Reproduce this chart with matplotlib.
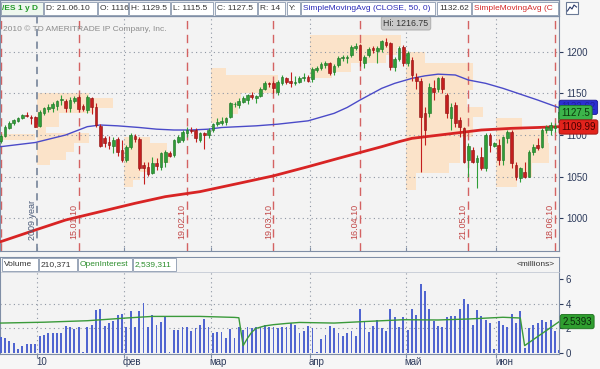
import numpy as np
import pandas as pd
import matplotlib
matplotlib.use("Agg")
import matplotlib.pyplot as plt
import matplotlib.transforms as mtransforms
from matplotlib.patches import Rectangle

plt.rcParams["font.family"] = ["Liberation Sans", "DejaVu Sans"]

# ---------------------------------------------------------
# Data: /ES daily bars 18.12.2009 - 21.06.2010 (no bars on 25.12 and 01.01)
# ---------------------------------------------------------
dates = pd.bdate_range("2009-12-18", "2010-06-21")
dates = dates.drop(pd.to_datetime(["2009-12-25", "2010-01-01"]))

opens = [1093, 1099, 1109, 1114, 1117, 1120, 1124, 1122, 1122, 1111,
         1127, 1131, 1132, 1135, 1142, 1141, 1133, 1141, 1146, 1135,
         1130, 1145, 1134, 1111, 1096, 1092, 1087, 1095, 1082, 1070,
         1086, 1099, 1095, 1064, 1062, 1055, 1066, 1062, 1068, 1079,
         1076, 1092, 1094, 1102, 1106, 1106, 1094, 1102, 1100, 1106,
         1113, 1115, 1116, 1122, 1137, 1136, 1140, 1142, 1148, 1145,
         1147, 1155, 1162, 1163, 1152, 1162, 1169, 1165, 1163, 1164,
         1169, 1170, 1167, 1178, 1180, 1184, 1186, 1176, 1184, 1192,
         1193, 1196, 1205, 1208, 1187, 1196, 1205, 1201, 1203, 1212,
         1210, 1182, 1191, 1206, 1186, 1190, 1170, 1165, 1126, 1126,
         1156, 1155, 1168, 1148, 1120, 1136, 1118, 1109, 1070, 1082,
         1068, 1074, 1060, 1100, 1087, 1088, 1070, 1096, 1104, 1064,
         1048, 1056, 1050, 1080, 1088, 1086, 1106, 1106, 1109, 1116]
highs = [1101, 1112, 1117, 1119, 1122, 1125, 1128, 1124, 1123, 1130,
         1134, 1137, 1139, 1142, 1148, 1143, 1145, 1147, 1148, 1137,
         1148, 1146, 1138, 1113, 1099, 1099, 1097, 1098, 1094, 1088,
         1102, 1101, 1097, 1067, 1068, 1074, 1072, 1080, 1082, 1081,
         1095, 1100, 1106, 1110, 1110, 1108, 1104, 1104, 1108, 1114,
         1120, 1121, 1122, 1139, 1140, 1144, 1147, 1149, 1151, 1148,
         1157, 1165, 1164, 1165, 1166, 1172, 1170, 1176, 1171, 1171,
         1174, 1172, 1181, 1183, 1187, 1189, 1188, 1185, 1195, 1196,
         1196, 1208, 1210, 1209, 1196, 1205, 1207, 1207, 1214, 1216.75,
         1211, 1193, 1207, 1208, 1201, 1193, 1174, 1168, 1133, 1162,
         1166, 1170, 1171, 1150, 1138, 1140, 1122, 1110, 1090, 1086,
         1076, 1085, 1102, 1102, 1092, 1095, 1099, 1106, 1106, 1067,
         1062, 1068, 1082, 1089, 1096, 1108, 1112, 1116, 1114, 1129.5]
lows = [1090, 1097, 1107, 1112, 1116, 1119, 1121, 1113, 1109, 1109,
        1124, 1128, 1127, 1130, 1136, 1128, 1128, 1138, 1127, 1129,
        1126, 1125, 1110, 1085, 1085, 1083, 1078, 1075, 1067, 1068,
        1083, 1091, 1058, 1041, 1051, 1053, 1058, 1058, 1062, 1073,
        1074, 1090, 1092, 1098, 1102, 1092, 1092, 1083, 1096, 1104,
        1111, 1112, 1112, 1120, 1134, 1132, 1138, 1137, 1143, 1138,
        1145, 1154, 1158, 1150, 1148, 1160, 1161, 1158, 1160, 1162,
        1165, 1163, 1163, 1175, 1178, 1180, 1172, 1172, 1182, 1189,
        1186, 1194, 1202, 1183, 1180, 1194, 1198, 1186, 1200, 1205,
        1178, 1177, 1189, 1183, 1183, 1165, 1155, 1056, 1088, 1121,
        1142, 1152, 1150, 1120, 1106, 1110, 1098, 1066, 1050, 1066,
        1036, 1058, 1057, 1080, 1085, 1064, 1064, 1090, 1060, 1046,
        1044, 1048, 1049, 1076, 1082, 1084, 1102, 1100, 1104, 1115.5]
closes = [1099, 1110, 1115, 1118, 1121, 1124, 1123, 1120, 1110, 1128,
          1132, 1134, 1137, 1141, 1143, 1133, 1142, 1144, 1131, 1131,
          1146, 1134, 1112, 1087, 1090, 1088, 1094, 1080, 1070, 1086,
          1100, 1095, 1060, 1061, 1053, 1066, 1063, 1078, 1080, 1075,
          1094, 1098, 1104, 1106, 1105, 1096, 1102, 1100, 1106, 1113,
          1116, 1117, 1121, 1138, 1137, 1141, 1144, 1148, 1146, 1147,
          1155, 1162, 1161, 1156, 1164, 1170, 1164, 1162, 1163, 1169,
          1170, 1165, 1179, 1181, 1185, 1187, 1175, 1183, 1193, 1194,
          1194, 1206, 1207, 1190, 1194, 1203, 1202, 1205, 1213, 1208,
          1182, 1191, 1205, 1186, 1198, 1172, 1165, 1122, 1106, 1158,
          1152, 1169, 1155, 1127, 1134, 1115, 1110, 1068, 1087, 1068,
          1073, 1060, 1100, 1088, 1090, 1070, 1098, 1104, 1066, 1050,
          1060, 1050, 1080, 1086, 1084, 1106, 1110, 1112, 1111, 1127.5]

volume = [1.3, 1.2, 1.0, 0.8, 0.3, 0.55, 0.7, 0.7, 0.7, 1.35,
          1.45, 1.6, 1.6, 1.6, 1.6, 2.2, 2.15, 1.95, 2.15, 0.1,
          2.1, 2.25, 3.5, 3.6, 2.2, 2.4, 2.6, 3.1, 3.2, 2.1,
          3.4, 2.1, 3.4, 4.05, 2.15, 3.05, 2.3, 2.55, 2.9, 0.1,
          1.9, 1.9, 2.15, 2.1, 1.75, 2.0, 2.3, 2.8, 2.15, 1.6,
          1.7, 1.7, 1.2, 1.95, 1.2, 2.1, 1.9, 2.1, 2.0, 2.15,
          2.15, 2.3, 2.1, 2.15, 2.0, 2.15, 2.1, 2.4, 2.3, 1.6,
          1.8, 2.2, 2.0, 0.05, 1.1, 1.5, 2.2, 2.0, 1.6, 1.4,
          1.6, 1.8, 1.4, 3.6, 2.5, 1.7, 2.2, 2.7, 2.0, 1.8,
          3.6, 2.9, 2.1, 2.9, 1.9, 3.6, 3.1, 5.6, 5.0, 3.6,
          2.6, 2.2, 2.1, 2.9, 3.0, 3.0, 3.6, 4.4, 4.0, 2.3,
          3.5, 3.0, 2.7, 2.4, 0.3, 2.6, 2.3, 2.1, 3.2, 2.4,
          3.4, 0.4, 2.0, 2.3, 2.4, 2.7, 2.5, 2.7, 1.8, 0.21]

# open interest (millions), read at these bars
oi_bar = [0, 10, 20, 29, 35, 46, 54, 55, 56, 57, 58, 59, 61, 63, 66, 69,
          77, 85, 93, 101, 108, 116, 120, 121, 129]
oi_val = [2.43, 2.5, 2.62, 2.84, 2.97, 2.97, 2.89, 2.86, 0.6, 1.2, 1.7, 2.0,
          2.2, 2.3, 2.4, 2.48, 2.43, 2.57, 2.7, 2.68, 2.76, 2.9, 2.84, 0.6, 2.55]

# moving averages, read at these bars
sma50_bar = [0, 8, 15, 20, 23, 27, 32, 36, 40, 44, 48, 51, 55, 59, 64, 71,
             77, 80, 83, 88, 91, 95, 98, 101, 105, 108, 112, 116, 120, 124, 129]
sma50_val = [1086, 1091, 1100, 1110, 1112, 1111, 1109, 1107, 1106, 1106, 1107,
             1109, 1110, 1111, 1113, 1117, 1126, 1133, 1142, 1156, 1162, 1168,
             1171, 1173, 1172, 1166, 1162, 1156, 1149, 1142, 1132.62]
sma200_bar = [0, 8, 15, 23, 31, 38, 46, 55, 63, 71, 78, 83, 88, 92, 95, 103,
              111, 118, 124, 129]
sma200_val = [972, 986, 998, 1008, 1018, 1026, 1032, 1042, 1051, 1062, 1072,
              1079, 1086, 1092, 1096, 1101, 1106, 1108, 1109, 1109.99]

# monthly volume profiles: (price low, price high, length in bars)
prof_dec = [(1094, 1101, 8.5)]
prof_jan = [(1144, 1150, 12), (1132, 1144, 17.5), (1126, 1132, 13), (1110, 1126, 5),
            (1102, 1110, 2), (1090, 1102, 12), (1080, 1090, 8.5), (1070, 1080, 6.5),
            (1064, 1070, 3)]
prof_feb = [(1090, 1098, 6), (1080, 1090, 10), (1066, 1080, 10.5), (1056, 1066, 6),
            (1046, 1056, 3.7), (1038, 1046, 2)]
prof_mar = [(1172, 1180, 3.5), (1150, 1172, 15.5), (1135, 1150, 7), (1125, 1135, 6.2),
            (1114, 1125, 4)]
prof_apr = [(1206, 1220, 21), (1196, 1206, 20), (1186, 1196, 17.5), (1176, 1186, 9.5),
            (1168, 1176, 5)]
prof_may = [(1186, 1200, 4.6), (1154, 1186, 15.5), (1134, 1154, 14.3), (1122, 1134, 17.8),
            (1098, 1122, 15.5), (1066, 1098, 12.5), (1054, 1066, 10), (1034, 1054, 2.3)]
prof_jun = [(1106, 1120, 6), (1090, 1106, 11.8), (1066, 1090, 12.2), (1050, 1066, 8.3),
            (1038, 1050, 4.8)]

month_labels = ["10", "фев", "мар", "апр", "май", "июн"]
expirations = ["2009-12-18", "2010-01-15", "2010-02-19", "2010-03-19",
               "2010-04-16", "2010-05-21", "2010-06-18"]
exp_labels = ["", "15.01.10", "19.02.10", "19.03.10", "16.04.10", "21.05.10", "18.06.10"]

# ---------------------------------------------------------
# derived positions
# ---------------------------------------------------------
x = np.arange(len(dates))
month_idx = [i for i in range(1, len(dates)) if dates[i].month != dates[i - 1].month]
month_lines = [m - 0.5 for m in month_idx]
exp_idx = [dates.get_loc(pd.Timestamp(d)) for d in expirations]

GREEN = "#2f9e38"
RED = "#c41e1e"
PEACH = "#fbe3c9"
GRID = "#8e96a3"
SPINE = "#7f8ea6"
TICK = "#2d3b5c"

fig = plt.figure(figsize=(6, 3.69), dpi=100, facecolor="#f6f6f6")

# ---------------------------------------------------------
# price panel
# ---------------------------------------------------------
ax = fig.add_axes([0, 1 - 251 / 369, 559 / 600, 235 / 369], facecolor="#f3f3f3")
ax.set_xlim(-0.16, 128.94)
ax.set_ylim(960.8, 1242.8)

starts = [-0.5] + month_lines
for start, prof in zip(starts, [prof_dec, prof_jan, prof_feb, prof_mar,
                                prof_apr, prof_may, prof_jun]):
    lo = [p[0] for p in prof]
    hi = [p[1] for p in prof]
    w = [p[2] for p in prof]
    ax.barh(lo, w, height=np.subtract(hi, lo), left=start, align="edge",
            color=PEACH, lw=0, zorder=1)

for yv in [1000, 1050, 1100, 1150, 1200]:
    ax.axhline(yv, color=GRID, lw=0.8, ls=(0, (1, 3)), zorder=2)
for m in month_lines[1:]:
    ax.axvline(m, color=GRID, lw=0.8, ls=(0, (1, 3)), zorder=2)
ax.axvline(month_lines[0], color="#7f8ca0", lw=1.3, ls=(0, (4, 3)), zorder=2)
for e in exp_idx:
    ax.axvline(e, color="#d46262", lw=1.0, ls=(0, (6, 4)), zorder=2)

# moving averages
ax.plot(sma200_bar, sma200_val, color="#d82424", lw=2.0, zorder=3)
ax.plot(sma50_bar, sma50_val, color="#4a4ac8", lw=1.0, zorder=3)

# candles
o = np.array(opens, dtype=float)
c = np.array(closes, dtype=float)
up = c >= o
cols = np.where(up, GREEN, RED)
edges = np.where(up, "#1e6e24", "#8a1010")
ax.vlines(x, lows, highs, colors=cols, lw=0.8, zorder=4)
ax.bar(x, np.maximum(np.abs(c - o), 0.8), bottom=np.minimum(o, c), width=0.62,
       color=cols, edgecolor=edges, lw=0.4, zorder=5)

# rotated expiration / year labels
for e, lab in zip(exp_idx, exp_labels):
    if lab:
        ax.text(e - 1.15, 996, lab, rotation=90, ha="center", va="center",
                color="#c24848", fontsize=6.5, zorder=6)
ax.text(month_lines[0] - 1.2, 998, "2009 year", rotation=90, ha="center",
        va="center", color="#4a5a78", fontsize=6.5, zorder=6)

ax.text(0.006, 0.945, "2010 \u00a9 TD AMERITRADE IP Company, Inc.", transform=ax.transAxes,
        fontsize=6, color="#8c8c8c", va="center", zorder=6)
ax.text(88.4, 1234, "Hi: 1216.75", ha="left", va="center", fontsize=6.3, color="#333333",
        bbox=dict(boxstyle="round,pad=0.25", fc="#c9c9c9", ec="#a8a8a8", lw=0.6), zorder=7)

ax.yaxis.tick_right()
ax.set_yticks([1000, 1050, 1100, 1150, 1200])
ax.tick_params(axis="y", labelsize=7, colors=TICK, length=3, pad=2)
ax.set_xticks(month_lines)
ax.tick_params(axis="x", direction="in", length=3, color=SPINE, labelbottom=False)
for s in ax.spines.values():
    s.set_color(SPINE)
    s.set_linewidth(0.8)

# value flags on the right
blend = mtransforms.blended_transform_factory(ax.transAxes, ax.transData)
ax.text(1.004, sma50_val[-1] + 0.6, "1132.62", transform=blend, ha="left", va="center",
        fontsize=7, color="#2020a0", zorder=8, clip_on=False,
        bbox=dict(boxstyle="round,pad=0.22", fc="#2c30d0", ec="#1a1a90", lw=0.6))
ax.text(1.004, closes[-1] - 0.8, "1127.5", transform=blend, ha="left", va="center",
        fontsize=7, color="#0b3a0b", zorder=9, clip_on=False,
        bbox=dict(boxstyle="round,pad=0.22", fc="#3cb44a", ec="#1f7a28", lw=0.6))
ax.text(1.004, sma200_val[-1] - 0.4, "1109.99", transform=blend, ha="left", va="center",
        fontsize=7, color="#4a0000", zorder=9, clip_on=False,
        bbox=dict(boxstyle="round,pad=0.22", fc="#e2231c", ec="#9a1010", lw=0.6))

# ---------------------------------------------------------
# volume panel
# ---------------------------------------------------------
axv = fig.add_axes([0, 1 - 354 / 369, 559 / 600, 97 / 369], facecolor="#f3f3f3")
axv.set_xlim(-0.16, 128.94)
axv.set_ylim(-0.08, 7.79)
for yv in [2, 4]:
    axv.axhline(yv, color=GRID, lw=0.8, ls=(0, (1, 3)), zorder=1)
for m in month_lines:
    axv.plot([m, m], [-0.08, 6.7], color=GRID, lw=0.8, ls=(0, (1, 3)), zorder=1)
axv.bar(x, volume, width=0.42, color="#5065d0", zorder=3)
axv.plot(oi_bar, oi_val, color="#3a9a3a", lw=1.0, zorder=4)

axv.yaxis.tick_right()
axv.set_yticks([0, 2, 4, 6])
axv.tick_params(axis="y", labelsize=7, colors=TICK, length=3, pad=2)
axv.set_xticks(month_lines)
axv.tick_params(axis="x", length=3, color=SPINE, labelbottom=False)
for s in axv.spines.values():
    s.set_color(SPINE)
    s.set_linewidth(0.8)
for m, lab in zip(month_lines, month_labels):
    axv.text(m - 0.35, -0.73, lab, ha="left", va="center", fontsize=7, color=TICK,
             clip_on=False)
axv.text(1.006, oi_val[-1], "2.5393", transform=mtransforms.blended_transform_factory(
    axv.transAxes, axv.transData), ha="left", va="center", fontsize=7, color="#0b2a0b",
    clip_on=False, zorder=9,
    bbox=dict(boxstyle="round,pad=0.22", fc="#2f9e2f", ec="#1d6e1d", lw=0.6))

# ---------------------------------------------------------
# header rows (pixel overlay)
# ---------------------------------------------------------
ov = fig.add_axes([0, 0, 1, 1], zorder=10)
ov.set_xlim(0, 600)
ov.set_ylim(369, 0)
ov.axis("off")


def box(x0, x1, y0, y1, text, color="#333333", fc="white", weight="normal"):
    ov.add_patch(Rectangle((x0, y0), x1 - x0, y1 - y0, fc=fc, ec="#9aa6b8", lw=0.7))
    ov.text(x0 + 2, (y0 + y1) / 2 + 0.3, text, ha="left", va="center", fontsize=6.0,
            color=color, weight=weight)


ov.add_patch(Rectangle((0, 0), 559, 16, fc="#eef0f4", ec=SPINE, lw=0.8))
box(0.5, 43, 1.5, 15, "/ES 1 y D", color="#249a2a", fc="#eef7ee", weight="bold")
box(44, 97, 1.5, 15, "D: 21.06.10")
box(98, 128, 1.5, 15, "O: 1116")
box(129, 170, 1.5, 15, "H: 1129.5")
box(171, 213, 1.5, 15, "L: 1115.5")
box(215, 257, 1.5, 15, "C: 1127.5")
box(258, 285, 1.5, 15, "R: 14")
box(287, 300, 1.5, 15, "Y:")
box(301, 435, 1.5, 15, "SimpleMovingAvg (CLOSE, 50, 0)", color="#2a2ab8")
box(437, 471, 1.5, 15, "1132.62")
box(472, 558, 1.5, 15, "SimpleMovingAvg (C", color="#d42a2a")
ov.add_patch(Rectangle((0, 0), 559, 16, fc="none", ec=SPINE, lw=0.8))
ov.add_patch(Rectangle((566, 2), 12, 12, fc="white", ec="#6b7a96", lw=0.8))
ov.plot([567.5, 570, 572, 574, 576.5], [11, 7, 9, 5, 7], color="#2a3a6a", lw=0.8)

ov.add_patch(Rectangle((0.5, 257.5), 558, 14, fc="#f3f3f3", ec="none"))
box(2, 38, 258, 270.5, "Volume")
box(39, 77, 258, 270.5, "210,371")
box(78, 132, 258, 270.5, "OpenInterest", color="#2e8f2e")
box(133, 176, 258, 270.5, "2,539,311", color="#2e8f2e")
ov.text(536, 264.5, "<millions>", ha="center", va="center", fontsize=6.0, color="#333333")
ov.plot([0.5, 558.5], [271.5, 271.5], color="#c4cad4", lw=0.6)

fig.savefig("out.png", dpi=100, facecolor=fig.get_facecolor())
